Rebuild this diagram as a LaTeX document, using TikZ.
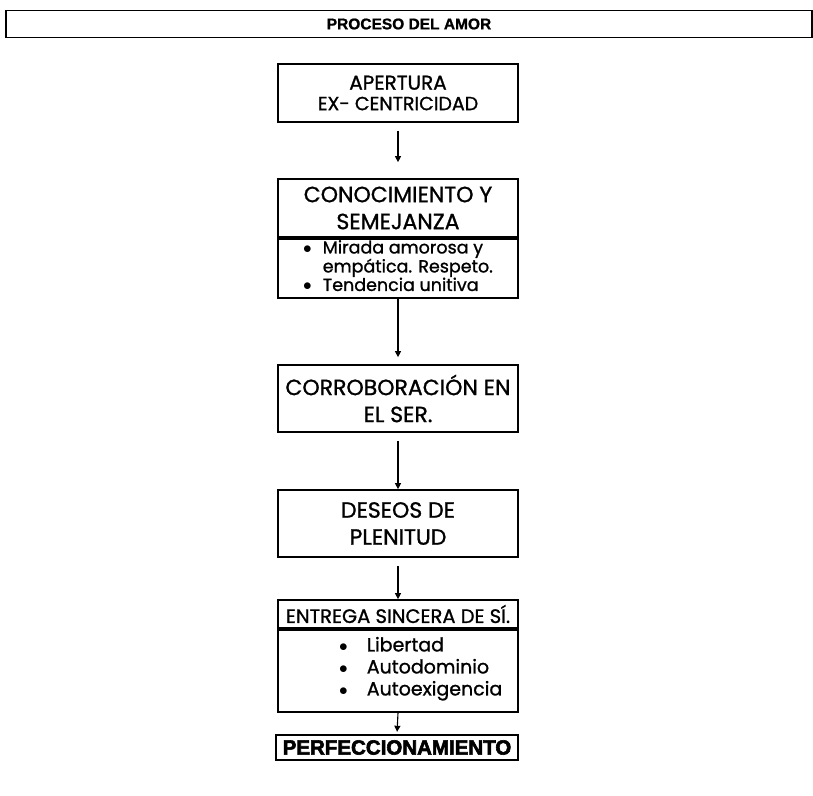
\documentclass[tikz,border=0pt]{standalone}
\usepackage{fontspec}
\setmainfont{Poppins}[FakeBold=1.1]
\newfontfamily\titlefont[FakeBold=1]{Liberation Sans Bold}
\newfontfamily\heavyfont[FakeBold=2.8]{Liberation Sans Bold}
\usetikzlibrary{arrows.meta}
\begin{document}
\begin{tikzpicture}[x=1pt,y=-1pt,
  box/.style={draw, line width=1.7pt, minimum width=240pt, inner sep=0pt, align=center},
  big/.style={font=\fontsize{22}{27}\selectfont},
  arr/.style={-{Triangle[length=6pt,width=6pt]}, line width=1.1pt}]
\useasboundingbox (0,0) rectangle (813,795);
% title
\node[draw, line width=1.7pt, minimum width=806pt, minimum height=27pt, inner sep=0pt,
      font=\titlefont\fontsize{15.5}{18}\selectfont] (title) at (409,24) {PROCESO DEL AMOR};
% boxes
\node[box, minimum height=58pt] (ap) at (398,93)
  {{\fontsize{20}{20}\selectfont APERTURA}\\[6pt]{\fontsize{19}{19}\selectfont EX- CENTRICIDAD}};
\node[box, big, minimum height=58pt] (co) at (398,208) {CONOCIMIENTO Y\\SEMEJANZA};
\node[box, minimum height=59pt, anchor=north, font=\fontsize{17.5}{17.5}\selectfont] (cob) at (co.south)
  {\begin{tabular}{@{}l@{\hspace{11pt}}l@{}}$\bullet$ & Mirada amorosa y\\ & empática. Respeto.\\ $\bullet$ & Tendencia unitiva\end{tabular}};
\node[box, big, minimum height=67pt] (cr) at (398,398.5) {CORROBORACIÓN EN\\EL SER.};
\node[box, big, minimum height=67pt] (de) at (398,523.5) {DESEOS DE\\PLENITUD};
\node[box, minimum height=28pt, font=\fontsize{19.5}{20}\selectfont] (en) at (398,614) {ENTREGA SINCERA DE SÍ.};
\node[box, minimum height=82pt, anchor=north] (enb) at (en.south) {};
\node[anchor=west, inner sep=0pt, font=\fontsize{19}{22}\selectfont] (enl) at (339,669)
  {\begin{tabular}{@{}l@{\hspace{19pt}}l@{}}$\bullet$ & Libertad\\ $\bullet$ & Autodominio\\ $\bullet$ & Autoexigencia\end{tabular}};
\node[box, minimum width=242pt, minimum height=25pt, line width=2.4pt,
      font=\heavyfont\fontsize{20.5}{20}\selectfont] (pe) at (397,747.5) {PERFECCIONAMIENTO};
% arrows
\draw[arr, shorten <=8pt, shorten >=16pt] (ap.south) -- (co.north);
\draw[arr, shorten >=7pt] (cob.south) -- (cr.north);
\draw[arr, shorten <=8pt] (cr.south) -- (de.north);
\draw[arr, shorten <=8pt] (de.south) -- (en.north);
\draw[arr, shorten >=2pt] (enb.south) -- (pe.north);
\end{tikzpicture}
\end{document}
